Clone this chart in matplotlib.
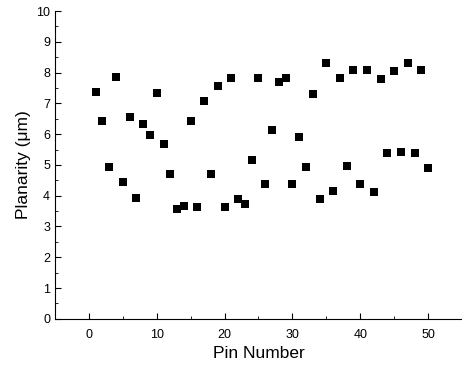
import matplotlib

matplotlib.use("Agg")
import matplotlib.pyplot as plt
from matplotlib.ticker import MultipleLocator

# planarity per pin
pins = list(range(1, 51))
planarity_um = [
    7.36, 6.43, 4.93, 7.86, 4.44, 6.57, 3.92, 6.33, 5.97, 7.35,
    5.68, 4.69, 3.56, 3.65, 6.43, 3.63, 7.09, 4.71, 7.56, 3.64,
    7.84, 3.89, 3.72, 5.17, 7.81, 4.37, 6.14, 7.69, 7.81, 4.39,
    5.92, 4.94, 7.32, 3.90, 8.32, 4.15, 7.84, 4.95, 8.08, 4.39,
    8.08, 4.12, 7.79, 5.40, 8.06, 5.41, 8.30, 5.40, 8.08, 4.89,
]

plt.rcParams["font.family"] = ["Liberation Sans", "DejaVu Sans"]

fig = plt.figure(figsize=(4.62, 3.69), dpi=100)
ax = fig.add_axes([0.119, 0.136, 0.881, 0.834])

ax.scatter(pins, planarity_um, marker="s", s=28, color="black", linewidths=0)

ax.set_xlim(-5, 55)
ax.set_ylim(0, 10)
ax.xaxis.set_major_locator(MultipleLocator(10))
ax.xaxis.set_minor_locator(MultipleLocator(5))
ax.yaxis.set_major_locator(MultipleLocator(1))
ax.yaxis.set_minor_locator(MultipleLocator(0.5))
ax.tick_params(which="both", direction="in", labelsize=9)
ax.tick_params(which="major", length=4)
ax.tick_params(which="minor", length=2)
ax.tick_params(axis="x", pad=7)

for side in ("top", "right"):
    ax.spines[side].set_visible(False)

ax.set_xlabel("Pin Number", fontsize=12.5)
ax.set_ylabel("Planarity (\u03bcm)", fontsize=12.5)

fig.savefig("out.png", dpi=100)
